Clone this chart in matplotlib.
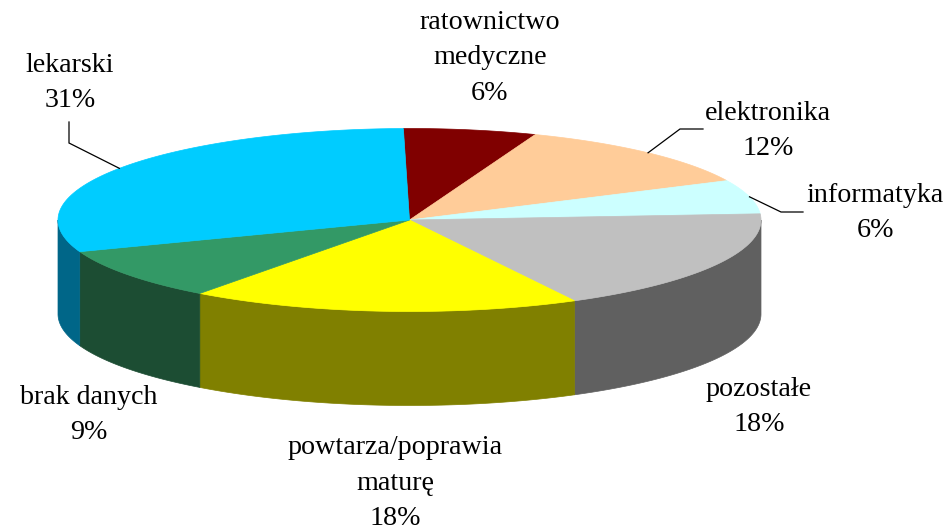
import numpy as np
import matplotlib
matplotlib.use("Agg")
import matplotlib.pyplot as plt
from matplotlib.patches import Polygon

labels = ["ratownictwo\nmedyczne", "elektronika", "informatyka", "pozostałe",
          "powtarza/poprawia\nmaturę", "brak danych", "lekarski"]
percents = [6, 12, 6, 18, 18, 9, 31]
shares = [6.1, 12.1, 6.0, 18.3, 17.95, 9.2, 30.35]
top_colors = ["#800000", "#FFCC99", "#CCFFFF", "#C0C0C0", "#FFFF00", "#339966", "#00CCFF"]
side_colors = ["#400000", "#806650", "#668080", "#606060", "#808000", "#1C4D33", "#006688"]

# where each label sits, in pixels of the original image
label_pos = [(490, 58), (768, 131), (875, 213), (759, 407), (395, 483), (89, 415), (70, 83)]
# elbows of the leader lines, only three slices have one
leaders = {
    1: [(680, 129), (703, 129)],
    2: [(781, 212), (803, 212)],
    6: [(69, 143), (69, 122)],
}

cx, cy = 409.5, 220
rx, ry = 351.5, 91.5
depth = 94
start = -1


def rim(a0, a1):
    # angles run clockwise from the top of the pie, in degrees
    t = np.radians(np.linspace(a0, a1, max(int(abs(a1 - a0) * 2), 2)))
    return cx + rx * np.sin(t), cy - ry * np.cos(t)


fig = plt.figure(figsize=(9.47, 5.31), dpi=100)
ax = fig.add_axes([0, 0, 1, 1])
ax.set_xlim(0, 947)
ax.set_ylim(531, 0)
ax.axis("off")

plt.rcParams["font.family"] = ["Liberation Serif", "DejaVu Serif"]

edges = start + np.cumsum([0] + shares) * 3.6

# side wall first, only the front half of the rim shows
for i in range(len(shares)):
    a0, a1 = max(edges[i], 90), min(edges[i + 1], 270)
    if a1 <= a0:
        continue
    x, y = rim(a0, a1)
    pts = np.r_[np.c_[x, y], np.c_[x[::-1], y[::-1] + depth]]
    ax.add_patch(Polygon(pts, fc=side_colors[i], ec=side_colors[i], lw=0.5))

for i in range(len(shares)):
    x, y = rim(edges[i], edges[i + 1])
    pts = np.r_[[[cx, cy]], np.c_[x, y]]
    ax.add_patch(Polygon(pts, fc=top_colors[i], ec=top_colors[i], lw=0.5))

for i, elbow in leaders.items():
    mid = (edges[i] + edges[i + 1]) / 2
    x, y = rim(mid, mid)
    xs = [x[0]] + [p[0] for p in elbow]
    ys = [y[0]] + [p[1] for p in elbow]
    ax.plot(xs, ys, color="black", lw=0.9, solid_joinstyle="miter")

for i in range(len(shares)):
    ax.text(label_pos[i][0], label_pos[i][1], f"{labels[i]}\n{percents[i]}%",
            ha="center", va="center", ma="center", fontsize=20.2, linespacing=1.56,
            color="black")

fig.savefig("out.png", dpi=100)
